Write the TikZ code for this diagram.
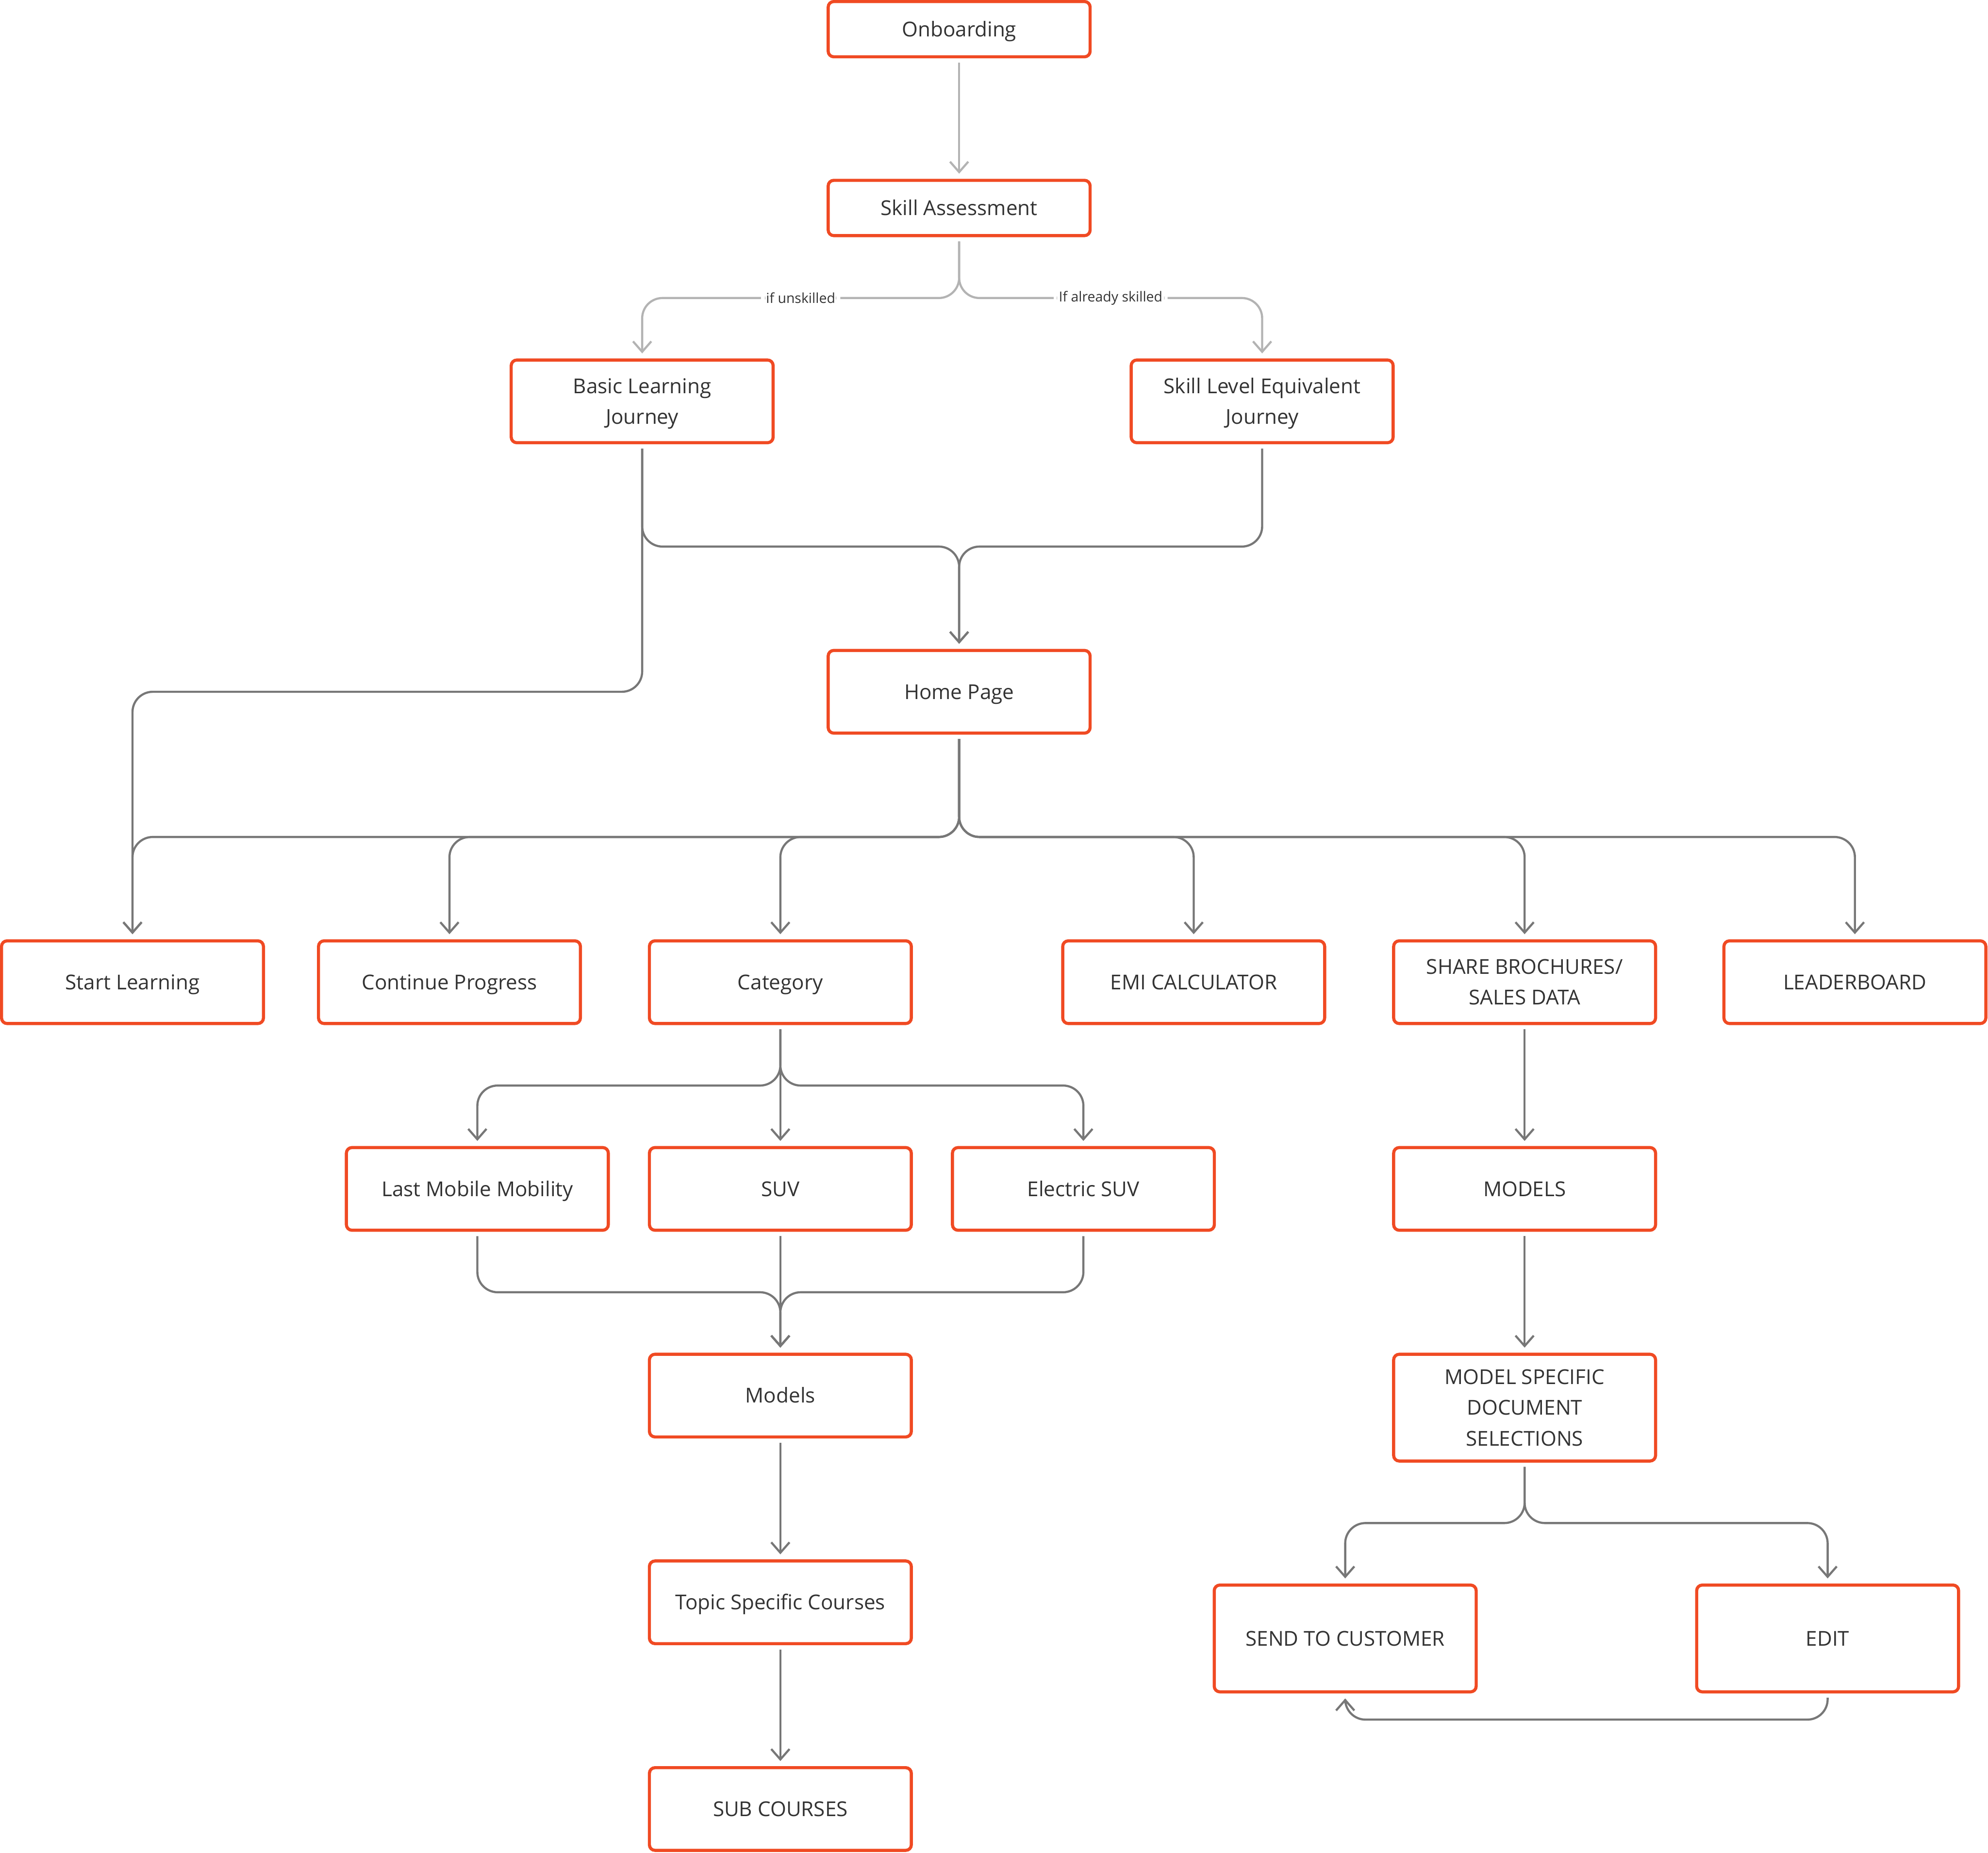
\documentclass[tikz,border=0pt]{standalone}
\usepackage{fontspec}
\setmainfont{Open Sans}
\usetikzlibrary{arrows.meta}
\definecolor{boxred}{RGB}{240,74,35}
\definecolor{lgray}{RGB}{179,179,179}
\definecolor{dgray}{RGB}{119,119,119}
\definecolor{txt}{RGB}{51,51,51}
\newcommand\boxfont{\fontsize{23}{34.5}\selectfont}
\newcommand\lblfont{\fontsize{15.5}{18}\selectfont}
\tikzset{
  >={Straight Barb[length=4.1mm,width=7.2mm]},
  bx/.style={draw=boxred,line width=3.5pt,rounded corners=2.2mm,fill=white,text=txt,
    font=\boxfont,align=center,minimum width=10.33cm,minimum height=3.26cm,inner sep=0pt,
    text height=23pt,text depth=6.6pt},
  sm/.style={bx,minimum height=2.18cm},
  tall/.style={bx,minimum height=4.21cm},
  lines2/.style={text height=57.5pt},
  lines3/.style={text height=92pt},
  conn/.style={->,draw=dgray,line width=2.4pt,rounded corners=8mm,shorten <=1.7mm,shorten >=2mm},
  lconn/.style={conn,draw=lgray},
  lbl/.style={fill=white,text=txt,font=\lblfont,inner xsep=2mm,inner ysep=1mm},
}
\begin{document}
\begin{tikzpicture}[x=0.05cm,y=-0.05cm]
\useasboundingbox (0,0) rectangle (1568,1461);
% top of the flow
\node[sm] (onb) at (756.5,23){Onboarding};
\node[sm] (skill) at (756.5,164){Skill Assessment};
\node[bx,lines2] (basic) at (506.5,316.5){Basic Learning\\Journey};
\node[bx,lines2] (sle) at (995.5,316.5){Skill Level Equivalent\\Journey};
\node[bx] (home) at (756.5,545.5){Home Page};
% home page row
\node[bx] (start) at (104.5,774.5){Start Learning};
\node[bx] (cont) at (354.5,774.5){Continue Progress};
\node[bx] (cat) at (615.5,774.5){Category};
\node[bx] (emi) at (941.5,774.5){EMI CALCULATOR};
\node[bx,lines2] (share) at (1202.5,774.5){SHARE BROCHURES/\\SALES DATA};
\node[bx] (lead) at (1463,774.5){LEADERBOARD};
% category branch
\node[bx] (lmm) at (376.5,937.5){Last Mobile Mobility};
\node[bx] (suv) at (615.5,937.5){SUV};
\node[bx] (esuv) at (854.5,937.5){Electric SUV};
\node[bx] (models) at (615.5,1100.5){Models};
\node[bx] (topic) at (615.5,1263.5){Topic Specific Courses};
\node[bx] (sub) at (615.5,1426.5){SUB COURSES};
% brochure branch
\node[bx] (mdl) at (1202.5,937.5){MODELS};
\node[tall,lines3] (msd) at (1202.5,1110){MODEL SPECIFIC\\DOCUMENT\\SELECTIONS};
\node[tall] (send) at (1061,1292){SEND TO CUSTOMER};
\node[tall] (edit) at (1441.5,1292){EDIT};

\draw[lconn] (onb) -- (skill);
\draw[lconn] (skill.south) -- (756.5,235) -- node[lbl]{if unskilled} (506.5,235) -- (basic.north);
\draw[lconn] (skill.south) -- (756.5,235) -- node[lbl]{If already skilled} (995.5,235) -- (sle.north);

\draw[conn] (basic.south) -- (506.5,431) -- (756.5,431) -- (home.north);
\draw[conn] (sle.south) -- (995.5,431) -- (756.5,431) -- (home.north);
\draw[conn] (basic.south) -- (506.5,545.5) -- (104.5,545.5) -- (start.north);
\foreach \b in {start,cont,cat,emi,share,lead}
  \draw[conn] (home.south) -- (756.5,660) -| (\b.north);

\foreach \b in {lmm,esuv}
  \draw[conn] (cat.south) -- (615.5,856) -| (\b.north);
\draw[conn] (cat) -- (suv);
\foreach \b in {lmm,esuv}
  \draw[conn] (\b.south) |- (615.5,1019) -- (models.north);
\draw[conn] (suv) -- (models);
\draw[conn] (models) -- (topic);
\draw[conn] (topic) -- (sub);

\draw[conn] (share) -- (mdl);
\draw[conn] (mdl) -- (msd);
\foreach \b in {send,edit}
  \draw[conn] (msd.south) -- (1202.5,1201) -| (\b.north);
\draw[conn] (edit.south) -- (1441.5,1356) -| (send.south);
\end{tikzpicture}
\end{document}
